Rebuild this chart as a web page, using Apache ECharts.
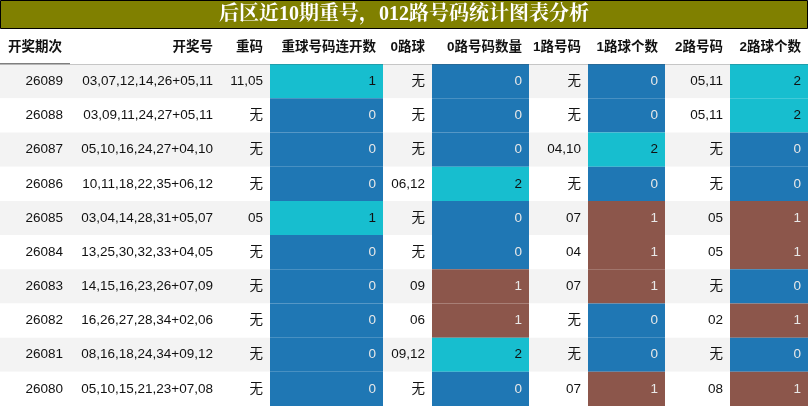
<!DOCTYPE html>
<html><head><meta charset="utf-8">
<script src="https://cdn.jsdelivr.net/npm/echarts@6/dist/echarts.min.js"></script>
<style>html,body{margin:0;padding:0;background:#fff}#c{width:808px;height:406px}</style>
</head><body><div id="c"></div>
<script>
const title = '后区近10期重号，012路号码统计图表分析';
const headers = ['开奖期次','开奖号','重码','重球号码连开数','0路球','0路号码数量','1路号码','1路球个数','2路号码','2路球个数'];
const periods = ['26089','26088','26087','26086','26085','26084','26083','26082','26081','26080'];
const draws = ['03,07,12,14,26+05,11','03,09,11,24,27+05,11','05,10,16,24,27+04,10','10,11,18,22,35+06,12','03,04,14,28,31+05,07','13,25,30,32,33+04,05','14,15,16,23,26+07,09','16,26,27,28,34+02,06','08,16,18,24,34+09,12','05,10,15,21,23+07,08'];
const repeats = ['11,05','无','无','无','05','无','无','无','无','无'];
const repeatCount = [1,0,0,0,1,0,0,0,0,0];
const road0 = ['无','无','无','06,12','无','无','09','06','09,12','无'];
const road0Count = [0,0,0,2,0,0,1,1,2,0];
const road1 = ['无','无','04,10','无','07','04','07','无','无','07'];
const road1Count = [0,0,2,0,1,1,1,0,0,1];
const road2 = ['05,11','05,11','无','无','05','05','无','02','无','08'];
const road2Count = [2,2,0,0,1,1,0,1,0,1];

const edges = [0,70,220,270,383,432,529,588,665,730,808];
const cols = [periods,draws,repeats,repeatCount,road0,road0Count,road1,road1Count,road2,road2Count];
const countCols = {3:true,5:true,7:true,9:true};
const BLUE='#1f77b4', BROWN='#8c564b', CYAN='#17becf';
function cellColor(c,v){
  if(c===3) return v===1?CYAN:BLUE;
  return v===0?BLUE:(v===1?BROWN:CYAN);
}
const data=[];
for(let c=0;c<cols.length;c++){
  data.push([c,0,headers[c]]);
  for(let r=0;r<periods.length;r++) data.push([c,r+1,cols[c][r]]);
}
const chart = echarts.init(document.getElementById('c'));
chart.setOption({
  animation:false,
  grid:{left:0,right:0,top:30,bottom:0},
  xAxis:{type:'value',min:0,max:808,show:false},
  yAxis:{type:'value',min:0,max:11,inverse:true,show:false},
  graphic:[
    {type:'rect',shape:{x:0.5,y:0.5,width:807,height:28},style:{fill:'#808000',stroke:'#000',lineWidth:1}},
    {type:'text',x:404,y:15,style:{text:title,fill:'#fff',font:'bold 20px "Liberation Serif","Noto Serif CJK SC","Noto Sans CJK SC",serif',align:'center',verticalAlign:'middle'}}
  ],
  series:[{
    type:'custom',
    data:data,
    renderItem:function(params,api){
      const c=api.value(0), r=api.value(1);
      const v=data[params.dataIndex][2];
      const p0=api.coord([edges[c],r]), p1=api.coord([edges[c+1],r+1]);
      const w=p1[0]-p0[0], h=p1[1]-p0[1];
      let fill = (r>0 && (r%2===1))?'#f3f3f3':'#fff';
      let txtColor='#111';
      if(r>0 && countCols[c]){fill=cellColor(c,v); txtColor= fill===CYAN?'#111':'#e8e8e8';}
      const children=[{type:'rect',shape:{x:p0[0],y:p0[1],width:w,height:h},style:{fill:fill}}];
      let tx = p1[0]-7, align='right';
      if(r===0 && c===0){tx=p0[0]+8; align='left';}
      children.push({type:'text',style:{x:tx,y:p0[1]+h/2,text:String(v),align:align,verticalAlign:'middle',fill:txtColor,
        font:(r===0?'bold ':'')+'13.5px "Liberation Sans","Noto Sans CJK SC",sans-serif'}});
      if(r===0 && c===0){
        children.push({type:'line',shape:{x1:0,y1:p1[1],x2:808,y2:p1[1]},style:{stroke:'#000',lineWidth:1.5}});
      }
      return {type:'group',children:children};
    }
  }]
});
</script></body></html>
